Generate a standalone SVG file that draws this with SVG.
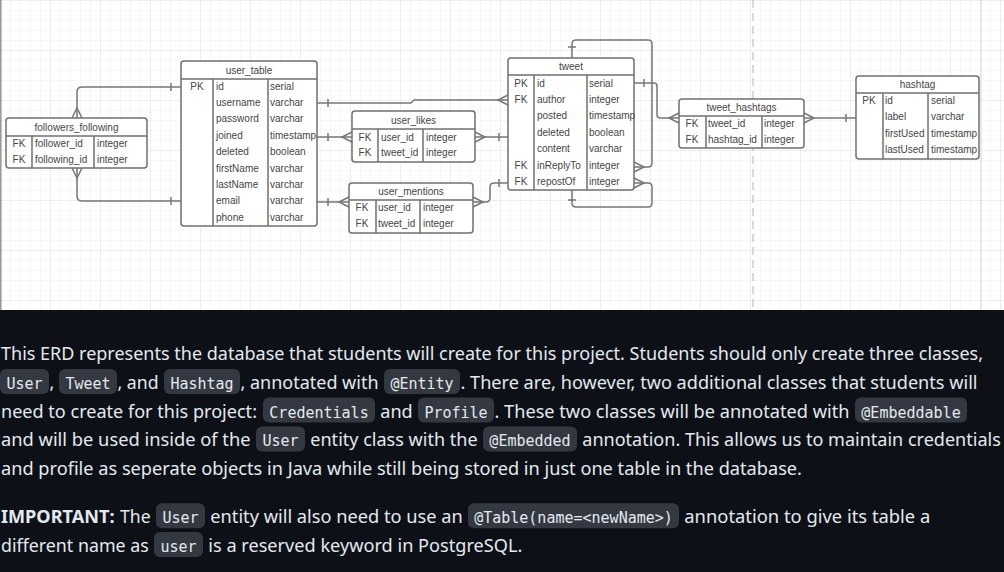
<svg xmlns="http://www.w3.org/2000/svg" width="1004" height="572" viewBox="0 0 1004 572">
<style>
.box{fill:#fff;stroke:#707070;stroke-width:1.5}
.div{stroke:#707070;stroke-width:1.5;fill:none}
.t{font-family:"Liberation Sans",Arial,sans-serif;font-size:10px;fill:#454545}
.c{text-anchor:middle}
.conn path{fill:none;stroke:#767676;stroke-width:1.5}
.p{font-family:"Noto Sans","Open Sans",sans-serif;font-size:18px;fill:#e3e9ef}
.b{font-weight:bold}
.code{font-family:"DejaVu Sans Mono","Liberation Mono",monospace;font-size:15px;fill:#e3e9ef;text-anchor:middle}
.bg{fill:#343941}
</style>
<defs>
<pattern id="minor" width="10" height="10" patternUnits="userSpaceOnUse"><path d="M10 0H0V10" fill="none" stroke="#efefef" stroke-width="1"/></pattern>
<pattern id="major" width="50" height="50" patternUnits="userSpaceOnUse"><rect width="50" height="50" fill="url(#minor)"/><path d="M50 0H0V50" fill="none" stroke="#e3e3e3" stroke-width="1"/></pattern>
</defs>
<rect x="0" y="0" width="1004" height="310" fill="#fff"/>
<rect x="0" y="0" width="1004" height="310" fill="url(#major)"/>
<line x1="981" y1="0" x2="981" y2="310" stroke="#d6d6d6" stroke-width="1"/>
<line x1="753" y1="0" x2="753" y2="310" stroke="#cdcdcd" stroke-width="1.5" stroke-dasharray="8 5"/>
<line x1="0.8" y1="0" x2="0.8" y2="310" stroke="#9a9a9a" stroke-width="1.6"/>

<g id="connectors" class="conn">
<path d="M77 118V92Q77 87 82 87H181"/><path d="M72 118L77 108L82 118"/><path d="M171 83V91"/>
<path d="M77 168V196Q77 201 82 201H181"/><path d="M72 168L77 178L82 168"/><path d="M171 197V205"/>
<path d="M317 103H411L414 100H508"/><path d="M328 99V107"/><path d="M508 95L498 100L508 105"/>
<path d="M317 137H352"/><path d="M328 133V141"/><path d="M352 132L342 137L352 142"/>
<path d="M475 137H508"/><path d="M475 132L485 137L475 142"/><path d="M499 133V141"/>
<path d="M317 202H349"/><path d="M328 198V206"/><path d="M349 197L339 202L349 207"/>
<path d="M473 202H486Q490 202 490 198V187Q490 183 494 183H508"/><path d="M473 197L483 202L473 207"/><path d="M499 179V187"/>
<path d="M572 58V44Q572 40 576 40H648Q652 40 652 44V163Q652 167 648 167H634"/><path d="M568 47H576"/><path d="M634 162L644 167L634 172"/>
<path d="M572 190V203Q572 207 576 207H648Q652 207 652 203V187Q652 183 648 183H634"/><path d="M568 200H576"/><path d="M634 178L644 183L634 188"/>
<path d="M634 83H654Q657 83 657 86V115Q657 118 660 118H679"/><path d="M644 79V87"/><path d="M679 113L669 118L679 123"/>
<path d="M804 118H856"/><path d="M804 113L814 118L804 123"/><path d="M846 114V122"/>
</g>

<g id="followers_following">
<rect class="box" x="6" y="118" width="141" height="50" rx="3"/>
<path class="div" d="M6 136H147M32 136V168M94 136V168"/>
<text class="t c" x="76.5" y="130.5">followers_following</text>
<text class="t c" x="19" y="146.5">FK</text><text class="t" x="35" y="146.5">follower_id</text><text class="t" x="97" y="146.5">integer</text>
<text class="t c" x="19" y="162.5">FK</text><text class="t" x="35" y="162.5">following_id</text><text class="t" x="97" y="162.5">integer</text>
</g>

<g id="user_table">
<rect class="box" x="181" y="61" width="136" height="165" rx="3"/>
<path class="div" d="M181 79H317M213 79V226M268 79V226"/>
<text class="t c" x="249" y="73.5">user_table</text>
<text class="t c" x="197" y="89.5">PK</text>
<text class="t" x="216" y="89.5">id</text><text class="t" x="270" y="89.5">serial</text>
<text class="t" x="216" y="105.9">username</text><text class="t" x="270" y="105.9">varchar</text>
<text class="t" x="216" y="122.3">password</text><text class="t" x="270" y="122.3">varchar</text>
<text class="t" x="216" y="138.7">joined</text><text class="t" x="270" y="138.7">timestamp</text>
<text class="t" x="216" y="155.1">deleted</text><text class="t" x="270" y="155.1">boolean</text>
<text class="t" x="216" y="171.5">firstName</text><text class="t" x="270" y="171.5">varchar</text>
<text class="t" x="216" y="187.9">lastName</text><text class="t" x="270" y="187.9">varchar</text>
<text class="t" x="216" y="204.3">email</text><text class="t" x="270" y="204.3">varchar</text>
<text class="t" x="216" y="220.7">phone</text><text class="t" x="270" y="220.7">varchar</text>
</g>

<g id="user_likes">
<rect class="box" x="352" y="111" width="123" height="51" rx="3"/>
<path class="div" d="M352 129H475M378 129V162M423 129V162"/>
<text class="t c" x="413.5" y="123.5">user_likes</text>
<text class="t c" x="365" y="140.5">FK</text><text class="t" x="381" y="140.5">user_id</text><text class="t" x="426" y="140.5">integer</text>
<text class="t c" x="365" y="156">FK</text><text class="t" x="381" y="156">tweet_id</text><text class="t" x="426" y="156">integer</text>
</g>

<g id="user_mentions">
<rect class="box" x="349" y="183" width="124" height="50" rx="3"/>
<path class="div" d="M349 200H473M376 200V233M420 200V233"/>
<text class="t c" x="411" y="195">user_mentions</text>
<text class="t c" x="362" y="210.5">FK</text><text class="t" x="378" y="210.5">user_id</text><text class="t" x="423" y="210.5">integer</text>
<text class="t c" x="362" y="226.5">FK</text><text class="t" x="378" y="226.5">tweet_id</text><text class="t" x="423" y="226.5">integer</text>
</g>

<g id="tweet">
<rect class="box" x="508" y="58" width="126" height="132" rx="3"/>
<path class="div" d="M508 75H634M534 75V190M587 75V190"/>
<text class="t c" x="571" y="70">tweet</text>
<text class="t c" x="521" y="86.5">PK</text><text class="t" x="537" y="86.5">id</text><text class="t" x="589" y="86.5">serial</text>
<text class="t c" x="521" y="102.9">FK</text><text class="t" x="537" y="102.9">author</text><text class="t" x="589" y="102.9">integer</text>
<text class="t" x="537" y="119.3">posted</text><text class="t" x="589" y="119.3">timestamp</text>
<text class="t" x="537" y="135.7">deleted</text><text class="t" x="589" y="135.7">boolean</text>
<text class="t" x="537" y="152.1">content</text><text class="t" x="589" y="152.1">varchar</text>
<text class="t c" x="521" y="168.5">FK</text><text class="t" x="537" y="168.5">inReplyTo</text><text class="t" x="589" y="168.5">integer</text>
<text class="t c" x="521" y="184.9">FK</text><text class="t" x="537" y="184.9">repostOf</text><text class="t" x="589" y="184.9">integer</text>
</g>

<g id="tweet_hashtags">
<rect class="box" x="679" y="99" width="125" height="49" rx="3"/>
<path class="div" d="M679 116H804M706 116V148M762 116V148"/>
<text class="t c" x="741.5" y="111">tweet_hashtags</text>
<text class="t c" x="692" y="126.5">FK</text><text class="t" x="708" y="126.5">tweet_id</text><text class="t" x="764" y="126.5">integer</text>
<text class="t c" x="692" y="142.5">FK</text><text class="t" x="708" y="142.5">hashtag_id</text><text class="t" x="764" y="142.5">integer</text>
</g>

<g id="hashtag">
<rect class="box" x="856" y="76" width="123" height="83" rx="3"/>
<path class="div" d="M856 93H979M883 93V159M928 93V159"/>
<text class="t c" x="917.5" y="88">hashtag</text>
<text class="t c" x="869" y="103.5">PK</text><text class="t" x="885" y="103.5">id</text><text class="t" x="931" y="103.5">serial</text>
<text class="t" x="885" y="120">label</text><text class="t" x="931" y="120">varchar</text>
<text class="t" x="885" y="136.5">firstUsed</text><text class="t" x="931" y="136.5">timestamp</text>
<text class="t" x="885" y="153">lastUsed</text><text class="t" x="931" y="153">timestamp</text>
</g>

<g id="description">
<rect x="0" y="310" width="1004" height="262" fill="#0d1117"/>
<text class="p" x="1" y="360" textLength="982" lengthAdjust="spacingAndGlyphs">This ERD represents the database that students will create for this project. Students should only create three classes,</text>

<rect class="bg" x="0" y="369" width="49" height="25" rx="6"/><text class="code" x="24.5" y="389">User</text>
<text class="p" x="49.5" y="389">,</text>
<rect class="bg" x="59" y="369" width="58" height="25" rx="6"/><text class="code" x="88" y="389">Tweet</text>
<text class="p" x="117.5" y="389" textLength="41" lengthAdjust="spacingAndGlyphs">, and</text>
<rect class="bg" x="164" y="369" width="76" height="25" rx="6"/><text class="code" x="202" y="389">Hashtag</text>
<text class="p" x="240.5" y="389" textLength="138" lengthAdjust="spacingAndGlyphs">, annotated with</text>
<rect class="bg" x="384" y="369" width="76" height="25" rx="6"/><text class="code" x="422" y="389">@Entity</text>
<text class="p" x="460.5" y="389" textLength="517" lengthAdjust="spacingAndGlyphs">. There are, however, two additional classes that students will</text>

<text class="p" x="1" y="417.6" textLength="256" lengthAdjust="spacingAndGlyphs">need to create for this project:</text>
<rect class="bg" x="263" y="397.6" width="112" height="25" rx="6"/><text class="code" x="319" y="417.6">Credentials</text>
<text class="p" x="380.3" y="417.6" textLength="32.4" lengthAdjust="spacingAndGlyphs">and</text>
<rect class="bg" x="418" y="397.6" width="76" height="25" rx="6"/><text class="code" x="456" y="417.6">Profile</text>
<text class="p" x="494.5" y="417.6" textLength="355" lengthAdjust="spacingAndGlyphs">. These two classes will be annotated with</text>
<rect class="bg" x="855" y="397.6" width="112" height="25" rx="6"/><text class="code" x="911" y="417.6">@Embeddable</text>

<text class="p" x="1" y="446.4" textLength="249.5" lengthAdjust="spacingAndGlyphs">and will be used inside of the</text>
<rect class="bg" x="256" y="426.4" width="49" height="25" rx="6"/><text class="code" x="280.5" y="446.4">User</text>
<text class="p" x="310.3" y="446.4" textLength="167.3" lengthAdjust="spacingAndGlyphs">entity class with the</text>
<rect class="bg" x="483" y="426.4" width="94" height="25" rx="6"/><text class="code" x="530" y="446.4">@Embedded</text>
<text class="p" x="582.3" y="446.4" textLength="418.5" lengthAdjust="spacingAndGlyphs">annotation. This allows us to maintain credentials</text>

<text class="p" x="1" y="475.2" textLength="801" lengthAdjust="spacingAndGlyphs">and profile as seperate objects in Java while still being stored in just one table in the database.</text>

<text class="p b" x="1" y="523.2" textLength="113.5" lengthAdjust="spacingAndGlyphs">IMPORTANT:</text>
<text class="p" x="120" y="523.2" textLength="30.6" lengthAdjust="spacingAndGlyphs">The</text>
<rect class="bg" x="156" y="503.2" width="49" height="25" rx="6"/><text class="code" x="180.5" y="523.2">User</text>
<text class="p" x="210.3" y="523.2" textLength="252.4" lengthAdjust="spacingAndGlyphs">entity will also need to use an</text>
<rect class="bg" x="468" y="503.2" width="211" height="25" rx="6"/><text class="code" x="573.5" y="523.2">@Table(name=&lt;newName&gt;)</text>
<text class="p" x="684.3" y="523.2" textLength="246" lengthAdjust="spacingAndGlyphs">annotation to give its table a</text>

<text class="p" x="1" y="552" textLength="147.7" lengthAdjust="spacingAndGlyphs">different name as</text>
<rect class="bg" x="154" y="532" width="49" height="25" rx="6"/><text class="code" x="178.5" y="552">user</text>
<text class="p" x="208.3" y="552" textLength="314" lengthAdjust="spacingAndGlyphs">is a reserved keyword in PostgreSQL.</text>
</g>
</svg>
